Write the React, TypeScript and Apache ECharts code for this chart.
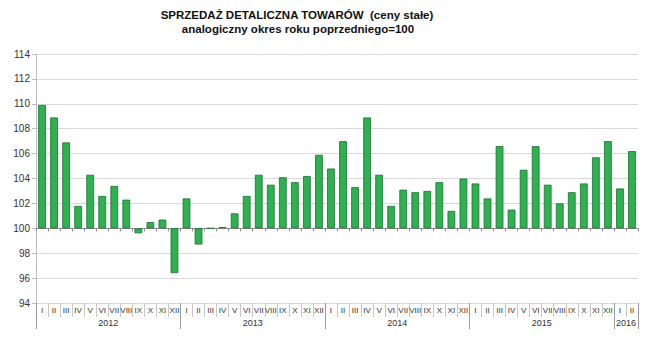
import React, { useEffect, useRef } from "react";
import * as echarts from "echarts";

const months = ["I", "II", "III", "IV", "V", "VI", "VII", "VIII", "IX", "X", "XI", "XII"];
const years = ["2012", "2013", "2014", "2015", "2016"];
const monthsPerYear = [12, 12, 12, 12, 2];

const values2012 = [109.9, 108.9, 106.9, 101.8, 104.3, 102.6, 103.4, 102.3, 99.6, 100.5, 100.7, 96.4];
const values2013 = [102.4, 98.7, 100.0, 100.1, 101.2, 102.6, 104.3, 103.5, 104.1, 103.7, 104.2, 105.9];
const values2014 = [104.8, 107.0, 103.3, 108.9, 104.3, 101.8, 103.1, 102.9, 103.0, 103.7, 101.4, 104.0];
const values2015 = [103.6, 102.4, 106.6, 101.5, 104.7, 106.6, 103.5, 102.0, 102.9, 103.6, 105.7, 107.0];
const values2016 = [103.2, 106.2];

const baseValue = 100;
const yMin = 94;
const yMax = 114;
const yStep = 2;

const titleLine1 = "SPRZEDAŻ DETALICZNA TOWARÓW  (ceny stałe)";
const titleLine2 = "analogiczny okres roku poprzedniego=100";

const FONT = "'Liberation Sans', Arial, sans-serif";

export default function App() {
  const ref = useRef<HTMLDivElement>(null);

  useEffect(() => {
    if (!ref.current) return;
    const chart = echarts.init(ref.current, undefined, { renderer: "svg" });

    const allValues = [...values2012, ...values2013, ...values2014, ...values2015, ...values2016];
    const monthCats: string[] = [];
    monthsPerYear.forEach((n) => {
      for (let i = 0; i < n; i++) monthCats.push(months[i]);
    });
    const nCats = monthCats.length;

    // half-slot axis for year labels & separators
    const halfCats: string[] = [];
    for (let i = 0; i <= nCats * 2; i++) halfCats.push("");
    const sepIdx: number[] = [0];
    let acc = 0;
    monthsPerYear.forEach((n, yi) => {
      halfCats[acc * 2 + n] = years[yi];
      acc += n;
      sepIdx.push(acc * 2);
    });

    const option: echarts.EChartsOption = {
      animation: false,
      graphic: [
        {
          type: "text",
          x: 297,
          y: 9,
          style: {
            text: titleLine1,
            font: `bold 11.5px ${FONT}`,
            fill: "#111",
            textAlign: "center",
          },
        },
        {
          type: "text",
          x: 298,
          y: 23,
          style: {
            text: titleLine2,
            font: `bold 11.5px ${FONT}`,
            fill: "#111",
            textAlign: "center",
          },
        },
      ],
      grid: { left: 36, right: 7, top: 54, bottom: 41, containLabel: false },
      yAxis: {
        type: "value",
        min: yMin - baseValue,
        max: yMax - baseValue,
        interval: yStep,
        axisLine: { show: true, lineStyle: { color: "#bdbdbd" } },
        axisTick: { show: true, length: 4, lineStyle: { color: "#bdbdbd" } },
        splitLine: { show: true, lineStyle: { color: "#d9d9d9" } },
        axisLabel: {
          formatter: (v: number) => String(Math.round(v + baseValue)),
          fontFamily: FONT,
          fontSize: 10,
          color: "#333",
          margin: 6,
        },
      },
      xAxis: [
        {
          type: "category",
          data: monthCats,
          position: "bottom",
          boundaryGap: true,
          axisLine: { show: false, onZero: false },
          axisTick: { show: true, interval: 0, length: 14, lineStyle: { color: "#c8c8c8" } },
          axisLabel: {
            interval: 0,
            fontFamily: FONT,
            fontSize: 8,
            color: "#333",
            margin: 3,
            hideOverlap: false,
          },
        },
        {
          type: "category",
          data: halfCats,
          position: "bottom",
          boundaryGap: false,
          axisLine: { show: false, onZero: false },
          axisTick: {
            show: true,
            interval: (i: number) => sepIdx.indexOf(i) >= 0,
            length: 26,
            lineStyle: { color: "#9a9a9a" },
          },
          axisLabel: {
            interval: 0,
            fontFamily: FONT,
            fontSize: 9,
            color: "#333",
            margin: 15,
            hideOverlap: false,
          },
        },
        {
          type: "category",
          data: monthCats,
          position: "bottom",
          boundaryGap: true,
          axisLine: { show: true, onZero: true, lineStyle: { color: "#8a8a8a", width: 1 } },
          axisTick: { show: true, interval: 0, length: 3, lineStyle: { color: "#8a8a8a" } },
          axisLabel: { show: false },
        },
      ],
      series: [
        {
          type: "bar",
          xAxisIndex: 0,
          data: allValues.map((v) => +(v - baseValue).toFixed(2)),
          barCategoryGap: "36%",
          itemStyle: {
            color: "#2eb14f",
            borderColor: "#1d6e33",
            borderWidth: 0.8,
          },
          z: 1,
        },
      ],
    };

    chart.setOption(option);
    return () => chart.dispose();
  }, []);

  return (
    <div
      ref={ref}
      style={{ position: "fixed", left: 0, top: 0, width: 645, height: 344, background: "#fff" }}
    />
  );
}
